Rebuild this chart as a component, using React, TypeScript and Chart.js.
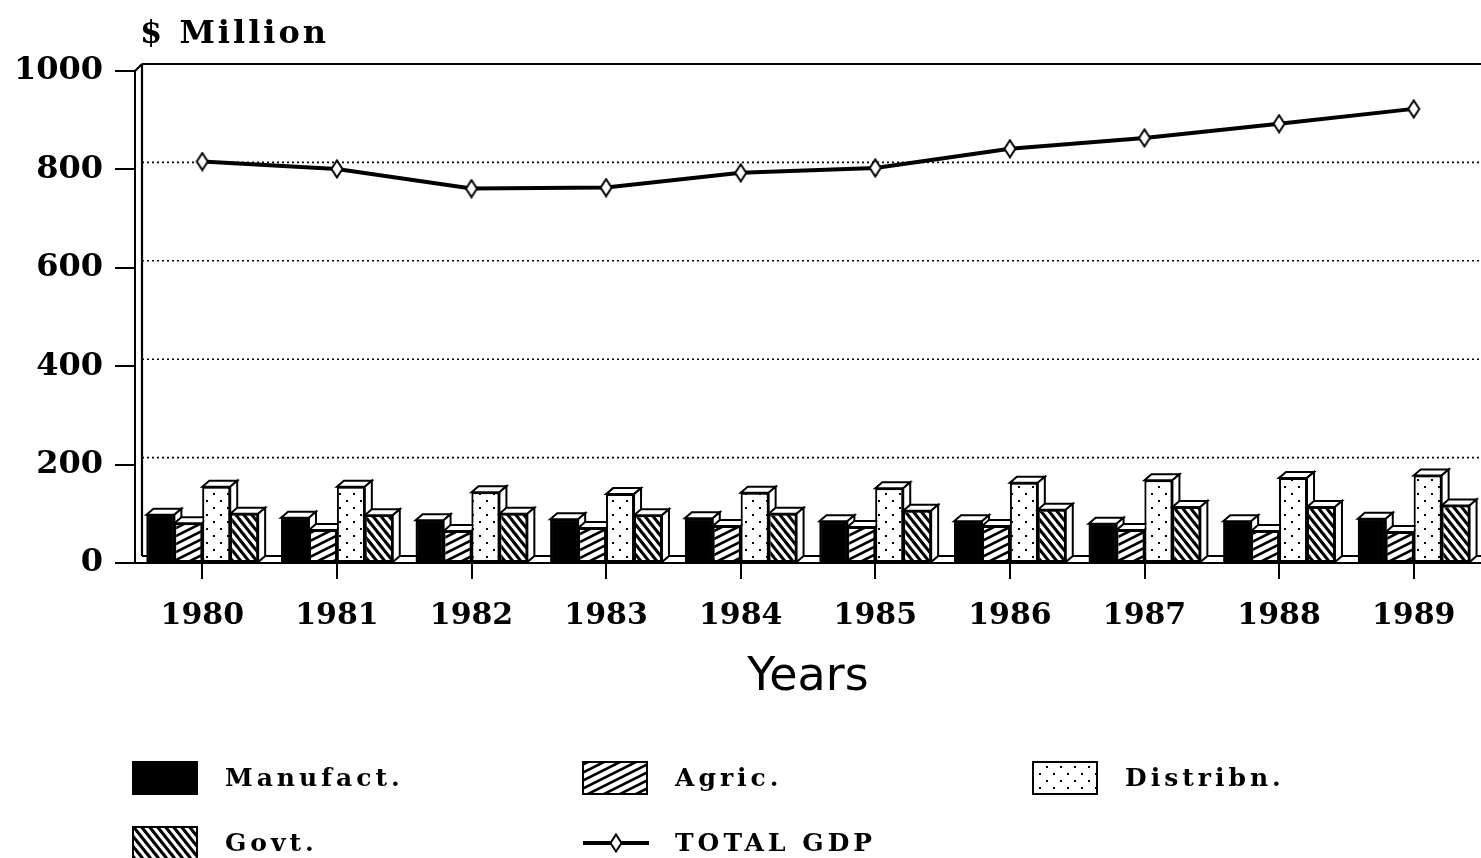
import React, { useEffect, useRef } from "react";
import { Chart, registerables } from "chart.js";

Chart.register(...registerables);

// ---- data ----
const years = ["1980", "1981", "1982", "1983", "1984", "1985", "1986", "1987", "1988", "1989"];
const manufact = [98, 92, 87, 89, 91, 85, 85, 80, 85, 90];
const agric = [81, 67, 65, 71, 75, 73, 75, 67, 65, 63];
const distribn = [155, 155, 144, 140, 143, 152, 163, 168, 173, 178];
const govt = [100, 97, 100, 97, 100, 106, 108, 114, 114, 117];
const totalGdp = [816, 801, 761, 763, 793, 803, 842, 864, 893, 923];
const gridValues = [200, 400, 600, 800];
const yMin = 0;
const yMax = 1000;
const yStep = 200;

const SERIF = '"DejaVu Serif", serif';
const SANS = '"DejaVu Sans", sans-serif';
const DX = 7;
const DY = 7;
const BX = 7;
const BY = 6;

function makePattern(kind: string): CanvasPattern | string {
  if (kind === "solid") return "#000";
  const c = document.createElement("canvas");
  let w = 16;
  let h = 8;
  if (kind === "down") { w = 8; h = 10; }
  if (kind === "dots") { w = 14; h = 14; }
  c.width = w;
  c.height = h;
  const g = c.getContext("2d")!;
  g.fillStyle = "#fff";
  g.fillRect(0, 0, w, h);
  g.strokeStyle = "#000";
  g.fillStyle = "#000";
  if (kind === "up") {
    g.lineWidth = 2.6;
    for (let k = -3; k <= 3; k++) {
      g.beginPath();
      g.moveTo(-w, 2 * h + k * h);
      g.lineTo(2 * w, -h + k * h);
      g.stroke();
    }
  } else if (kind === "down") {
    g.lineWidth = 3;
    for (let k = -3; k <= 3; k++) {
      g.beginPath();
      g.moveTo(k * w - w, -h);
      g.lineTo(k * w + 2 * w, 2 * h);
      g.stroke();
    }
  } else if (kind === "dots") {
    g.fillRect(3, 3, 2, 2);
    g.fillRect(10, 10, 2, 2);
  }
  return g.createPattern(c, "repeat")!;
}

function diamondImage(): HTMLCanvasElement {
  const c = document.createElement("canvas");
  c.width = 14;
  c.height = 20;
  const g = c.getContext("2d")!;
  g.beginPath();
  g.moveTo(7, 1.5);
  g.lineTo(12.5, 10);
  g.lineTo(7, 18.5);
  g.lineTo(1.5, 10);
  g.closePath();
  g.fillStyle = "#fff";
  g.fill();
  g.strokeStyle = "#000";
  g.lineWidth = 2;
  g.stroke();
  return c;
}

function seg(ctx: CanvasRenderingContext2D, x1: number, y1: number, x2: number, y2: number) {
  ctx.beginPath();
  ctx.moveTo(x1, y1);
  ctx.lineTo(x2, y2);
  ctx.stroke();
}

function poly(ctx: CanvasRenderingContext2D, pts: number[][]) {
  ctx.beginPath();
  ctx.moveTo(pts[0][0], pts[0][1]);
  for (let i = 1; i < pts.length; i++) ctx.lineTo(pts[i][0], pts[i][1]);
  ctx.closePath();
  ctx.fillStyle = "#fff";
  ctx.fill();
  ctx.stroke();
}

const frame3d = {
  id: "frame3d",
  beforeDatasetsDraw(chart: any) {
    const { ctx, chartArea } = chart;
    const { left, right, top, bottom } = chartArea;
    const y = chart.scales.y;
    ctx.save();
    ctx.strokeStyle = "#000";
    ctx.lineWidth = 1.6;
    ctx.setLineDash([2, 3]);
    for (const v of gridValues) {
      const py = y.getPixelForValue(v) - DY;
      seg(ctx, left + DX, py, right, py);
    }
    ctx.setLineDash([]);
    ctx.lineWidth = 2.2;
    seg(ctx, left + DX, top - DY, right, top - DY);
    seg(ctx, left + DX, top - DY, left + DX, bottom - DY);
    seg(ctx, left, top, left + DX, top - DY);
    seg(ctx, left + DX, bottom - DY, right, bottom - DY);
    ctx.restore();
  },
  afterDatasetsDraw(chart: any) {
    const ctx = chart.ctx;
    const metas = chart.data.datasets
      .map((_: any, i: number) => chart.getDatasetMeta(i))
      .filter((m: any) => m.type === "bar");
    const n = chart.data.labels.length;
    ctx.save();
    for (let j = 0; j < n; j++) {
      for (const meta of metas) {
        const el = meta.data[j];
        if (!el) continue;
        el.draw(ctx, chart.chartArea);
        const p = el.getProps(["x", "y", "base", "width"], true);
        const l = p.x - p.width / 2;
        const r = p.x + p.width / 2;
        ctx.strokeStyle = "#000";
        ctx.lineWidth = 2;
        ctx.lineJoin = "miter";
        poly(ctx, [[l, p.y], [l + BX, p.y - BY], [r + BX, p.y - BY], [r, p.y]]);
        poly(ctx, [[r, p.y], [r + BX, p.y - BY], [r + BX, p.base - BY], [r, p.base]]);
      }
    }
    ctx.restore();
  },
  afterDraw(chart: any) {
    const ctx = chart.ctx as CanvasRenderingContext2D;
    const { left } = chart.chartArea;
    ctx.save();
    ctx.fillStyle = "#000";
    ctx.font = `bold 32px ${SERIF}`;
    (ctx as any).letterSpacing = "3px";
    ctx.textBaseline = "alphabetic";
    ctx.textAlign = "left";
    ctx.fillText("$ Million", left + 5, 43);

    const colX = [133, 583, 1033];
    const rowY = [778, 843];
    ctx.font = `bold 25px ${SERIF}`;
    (ctx as any).letterSpacing = "4px";
    ctx.textBaseline = "middle";
    chart.data.datasets.forEach((ds: any, i: number) => {
      const col = i % 3;
      const row = Math.floor(i / 3);
      const x0 = colX[col];
      const yc = rowY[row];
      ctx.strokeStyle = "#000";
      if (ds.type === "line") {
        ctx.lineWidth = 4;
        seg(ctx, x0, yc, x0 + 66, yc);
        const img = ds.pointStyle as HTMLCanvasElement;
        ctx.drawImage(img, x0 + 33 - img.width / 2, yc - img.height / 2);
      } else {
        ctx.fillStyle = ds.backgroundColor;
        ctx.fillRect(x0, yc - 16, 64, 32);
        ctx.lineWidth = 2;
        ctx.strokeRect(x0, yc - 16, 64, 32);
      }
      ctx.fillStyle = "#000";
      ctx.fillText(ds.label, x0 + 92, yc + 1);
    });
    ctx.restore();
  },
};

export default function App() {
  const ref = useRef<HTMLCanvasElement>(null);
  useEffect(() => {
    const canvas = ref.current!;
    const barCommon = {
      borderColor: "#000",
      borderWidth: 2,
      borderSkipped: false,
      barPercentage: 1.0,
      categoryPercentage: 0.83,
      order: 2,
    };
    const chart = new Chart(canvas, {
      type: "bar",
      data: {
        labels: years,
        datasets: [
          { ...barCommon, label: "Manufact.", data: manufact, backgroundColor: makePattern("solid") } as any,
          { ...barCommon, label: "Agric.", data: agric, backgroundColor: makePattern("up") } as any,
          { ...barCommon, label: "Distribn.", data: distribn, backgroundColor: makePattern("dots") } as any,
          { ...barCommon, label: "Govt.", data: govt, backgroundColor: makePattern("down") } as any,
          {
            type: "line",
            label: "TOTAL GDP",
            data: totalGdp,
            borderColor: "#000",
            borderWidth: 4,
            backgroundColor: "#fff",
            pointStyle: diamondImage(),
            pointRadius: 8,
            tension: 0,
            order: 1,
          } as any,
        ],
      },
      options: {
        responsive: false,
        maintainAspectRatio: false,
        devicePixelRatio: 1,
        animation: false,
        layout: { autoPadding: false, padding: { top: 71, right: 0, bottom: 145, left: 0 } },
        plugins: { legend: { display: false }, tooltip: { enabled: false } },
        scales: {
          x: {
            type: "category",
            offset: true,
            grid: { offset: false, drawOnChartArea: false, drawTicks: true, tickLength: 16, color: "#000", lineWidth: 2 },
            border: { display: true, color: "#000", width: 2 },
            ticks: { color: "#000", font: { family: SERIF, size: 30, weight: "bold" }, padding: 19, maxRotation: 0, autoSkip: false },
            title: { display: true, text: "Years", color: "#000", font: { family: SANS, size: 46 }, padding: { top: 0, bottom: 7 } },
            afterFit: (s: any) => { s.height = 150; },
          },
          y: {
            min: yMin,
            max: yMax,
            ticks: { stepSize: yStep, color: "#000", font: { family: SERIF, size: 32, weight: "bold" }, padding: 12, callback: (v: any) => String(v) },
            grid: { drawOnChartArea: false, tickLength: 20, color: "#000", lineWidth: 2 },
            border: { display: true, color: "#000", width: 2 },
            afterFit: (s: any) => { s.width = 135; },
          },
        },
      } as any,
      plugins: [frame3d as any],
    });
    return () => chart.destroy();
  }, []);
  return (
    <div style={{ position: "fixed", left: 0, top: 0, width: 1481, height: 858, background: "#fff" }}>
      <canvas ref={ref} width={1481} height={858} style={{ display: "block", width: 1481, height: 858 }} />
    </div>
  );
}
